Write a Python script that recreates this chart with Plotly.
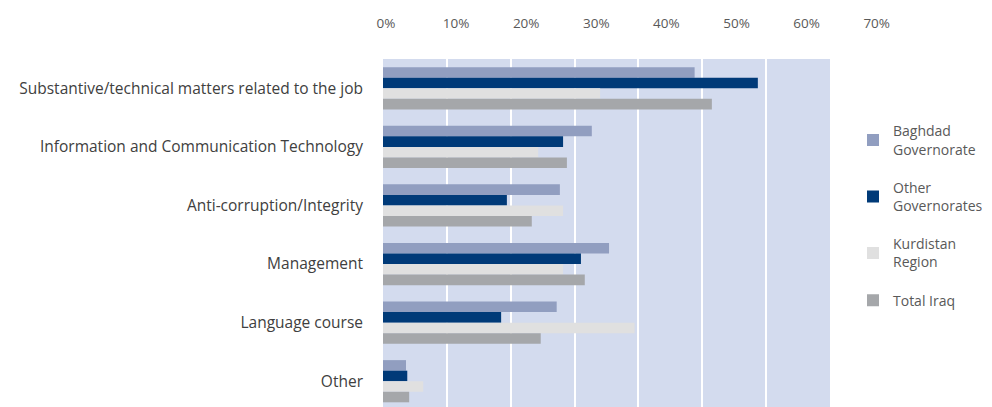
import plotly.graph_objects as go

categories = ['Substantive/technical matters related to the job',
              'Information and Communication Technology',
              'Anti-corruption/Integrity',
              'Management',
              'Language course',
              'Other']

baghdad = [48.8, 32.7, 27.7, 35.4, 27.2, 3.6]
other_gov = [58.7, 28.2, 19.4, 31.0, 18.5, 3.8]
kurdistan = [34.0, 24.3, 28.2, 28.2, 39.4, 6.3]
total_iraq = [51.5, 28.8, 23.3, 31.6, 24.7, 4.1]

series_names = ['Baghdad<br>Governorate', 'Other<br>Governorates', 'Kurdistan<br>Region', 'Total Iraq']
colors = ['#919ec0', '#003a78', '#e0e0e0', '#a5a7aa']

tick_vals = [0, 0.1, 0.2, 0.3, 0.4, 0.5, 0.6, 0.7]

fig = go.Figure()
for i, (name, vals, col) in enumerate(zip(series_names, [baghdad, other_gov, kurdistan, total_iraq], colors)):
    fig.add_trace(go.Bar(y=categories, x=[v / 100 for v in vals], orientation='h',
                         name=name, legendgroup=str(i),
                         marker=dict(color=col, line=dict(width=0))))

# empty trace so the label axis on top gets drawn
fig.add_trace(go.Scatter(x=[], y=[], xaxis='x2', yaxis='y', showlegend=False, hoverinfo='skip'))

# plot background only behind the bar area
fig.add_shape(type='rect', xref='x domain', yref='y domain', x0=0, x1=1, y0=0, y1=1,
              fillcolor='#d3dbee', line=dict(width=0), layer='below')

plot_w = 992 - 375 - 60
fig.update_layout(
    width=992, height=407,
    margin=dict(l=375, r=60, t=51, b=8),
    paper_bgcolor='white', plot_bgcolor='rgba(0,0,0,0)',
    barmode='group', bargap=0.28, bargroupgap=0,
    font=dict(family='Open Sans', size=13, color='#595959'),
    xaxis=dict(domain=[0, 447 / plot_w], range=[0, 0.7], tickvals=tick_vals,
               showticklabels=False, showgrid=True, gridcolor='white', gridwidth=1.5,
               zeroline=False, showline=False, automargin=False),
    xaxis2=dict(domain=[0, 1], anchor='free', position=1, side='top',
                range=[-3 / 701, -3 / 701 + plot_w / 701], tickvals=tick_vals, tickformat='.0%',
                showgrid=False, zeroline=False, showline=False, automargin=False,
                ticks='outside', ticklen=26, tickcolor='rgba(0,0,0,0)',
                tickfont=dict(size=13.5, color='#595959')),
    yaxis=dict(type='category', categoryorder='array', categoryarray=categories,
               range=[5.44, -0.5], showgrid=False, zeroline=False, showline=False,
               ticks='', ticklabelstandoff=19, automargin=False,
               tickfont=dict(size=15.5, color='#404040')),
    legend=dict(x=(845 - 375) / plot_w, y=0.838, xanchor='left', yanchor='top', traceorder='grouped',
                font=dict(size=14, color='#595959'), itemwidth=30, tracegroupgap=17,
                bgcolor='rgba(0,0,0,0)'),
    showlegend=True,
)

fig.write_html('out.html')
